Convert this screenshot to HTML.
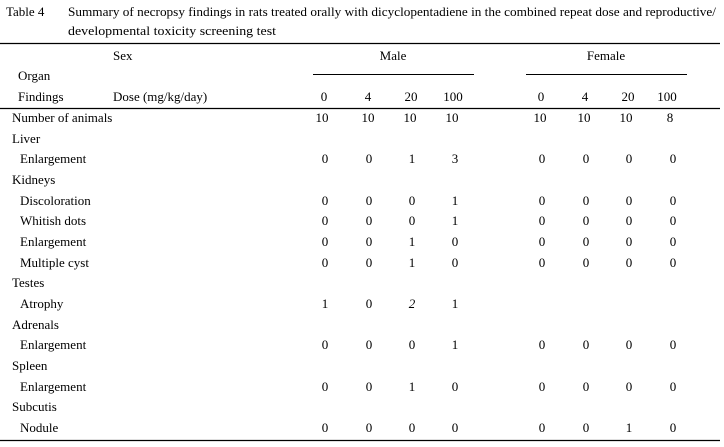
<!DOCTYPE html>
<html><head><meta charset="utf-8"><style>
html,body{margin:0;padding:0;background:#fff;}
svg{display:block;}
text{font-family:"Liberation Serif","Noto Serif CJK SC",serif;font-size:13px;fill:#000;}
.c{text-anchor:middle;}
</style></head><body>
<svg width="724" height="447" xmlns="http://www.w3.org/2000/svg">
<text x="6" y="16">Table 4</text>
<text x="68" y="16" textLength="648" lengthAdjust="spacingAndGlyphs">Summary of necropsy findings in rats treated orally with dicyclopentadiene in the combined repeat dose and reproductive/</text>
<text x="68" y="35" textLength="208" lengthAdjust="spacingAndGlyphs">developmental toxicity screening test</text>
<line x1="0" y1="43.5" x2="720" y2="43.5" stroke="#000" stroke-width="1.2"/>
<text x="113" y="60">Sex</text>
<text x="393" y="60" class="c">Male</text>
<text x="606" y="60" class="c">Female</text>
<line x1="313" y1="74.5" x2="474" y2="74.5" stroke="#000"/>
<line x1="526" y1="74.5" x2="687" y2="74.5" stroke="#000"/>
<text x="18" y="80">Organ</text>
<text x="18" y="101">Findings</text>
<text x="113" y="101">Dose (mg/kg/day)</text>
<g class="c">
<text x="324" y="101" class="c">0</text><text x="368" y="101" class="c">4</text><text x="411" y="101" class="c">20</text><text x="453" y="101" class="c">100</text>
<text x="541" y="101" class="c">0</text><text x="585" y="101" class="c">4</text><text x="628" y="101" class="c">20</text><text x="667" y="101" class="c">100</text>
</g>
<line x1="0" y1="108.5" x2="720" y2="108.5" stroke="#000" stroke-width="1.2"/>
<text x="12" y="122">Number of animals</text>
<text x="322" y="122" class="c">10</text><text x="368" y="122" class="c">10</text><text x="410" y="122" class="c">10</text><text x="452" y="122" class="c">10</text>
<text x="540" y="122" class="c">10</text><text x="584" y="122" class="c">10</text><text x="626" y="122" class="c">10</text><text x="670" y="122" class="c">8</text>
<text x="12" y="143">Liver</text>
<text x="20" y="163">Enlargement</text>
<text x="12" y="184">Kidneys</text>
<text x="20" y="205">Discoloration</text>
<text x="20" y="225">Whitish dots</text>
<text x="20" y="246">Enlargement</text>
<text x="20" y="267">Multiple cyst</text>
<text x="12" y="287">Testes</text>
<text x="20" y="308">Atrophy</text>
<text x="12" y="329">Adrenals</text>
<text x="20" y="349">Enlargement</text>
<text x="12" y="370">Spleen</text>
<text x="20" y="391">Enlargement</text>
<text x="12" y="411">Subcutis</text>
<text x="20" y="432">Nodule</text>
<g id="v">
<!-- rows: y, male(4), female(4) -->
<text x="325" y="163" class="c">0</text><text x="369" y="163" class="c">0</text><text x="412" y="163" class="c">1</text><text x="455" y="163" class="c">3</text>
<text x="542" y="163" class="c">0</text><text x="586" y="163" class="c">0</text><text x="629" y="163" class="c">0</text><text x="673" y="163" class="c">0</text>

<text x="325" y="205" class="c">0</text><text x="369" y="205" class="c">0</text><text x="412" y="205" class="c">0</text><text x="455" y="205" class="c">1</text>
<text x="542" y="205" class="c">0</text><text x="586" y="205" class="c">0</text><text x="629" y="205" class="c">0</text><text x="673" y="205" class="c">0</text>

<text x="325" y="225" class="c">0</text><text x="369" y="225" class="c">0</text><text x="412" y="225" class="c">0</text><text x="455" y="225" class="c">1</text>
<text x="542" y="225" class="c">0</text><text x="586" y="225" class="c">0</text><text x="629" y="225" class="c">0</text><text x="673" y="225" class="c">0</text>

<text x="325" y="246" class="c">0</text><text x="369" y="246" class="c">0</text><text x="412" y="246" class="c">1</text><text x="455" y="246" class="c">0</text>
<text x="542" y="246" class="c">0</text><text x="586" y="246" class="c">0</text><text x="629" y="246" class="c">0</text><text x="673" y="246" class="c">0</text>

<text x="325" y="267" class="c">0</text><text x="369" y="267" class="c">0</text><text x="412" y="267" class="c">1</text><text x="455" y="267" class="c">0</text>
<text x="542" y="267" class="c">0</text><text x="586" y="267" class="c">0</text><text x="629" y="267" class="c">0</text><text x="673" y="267" class="c">0</text>

<text x="325" y="308" class="c">1</text><text x="369" y="308" class="c">0</text><text x="412" y="308" class="c" font-style="italic">2</text><text x="455" y="308" class="c">1</text>

<text x="325" y="349" class="c">0</text><text x="369" y="349" class="c">0</text><text x="412" y="349" class="c">0</text><text x="455" y="349" class="c">1</text>
<text x="542" y="349" class="c">0</text><text x="586" y="349" class="c">0</text><text x="629" y="349" class="c">0</text><text x="673" y="349" class="c">0</text>

<text x="325" y="391" class="c">0</text><text x="369" y="391" class="c">0</text><text x="412" y="391" class="c">1</text><text x="455" y="391" class="c">0</text>
<text x="542" y="391" class="c">0</text><text x="586" y="391" class="c">0</text><text x="629" y="391" class="c">0</text><text x="673" y="391" class="c">0</text>

<text x="325" y="432" class="c">0</text><text x="369" y="432" class="c">0</text><text x="412" y="432" class="c">0</text><text x="455" y="432" class="c">0</text>
<text x="542" y="432" class="c">0</text><text x="586" y="432" class="c">0</text><text x="629" y="432" class="c">1</text><text x="673" y="432" class="c">0</text>
</g>
<line x1="0" y1="440.5" x2="720" y2="440.5" stroke="#000" stroke-width="1.2"/>
</svg>
</body></html>
